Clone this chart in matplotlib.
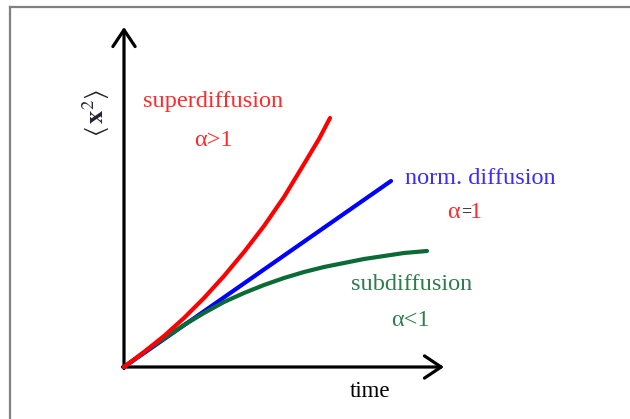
import matplotlib.pyplot as plt
from matplotlib.lines import Line2D

plt.rcParams["mathtext.fontset"] = "stix"

# mean squared displacement vs time, arbitrary units (origin at 0, 0)
t_super = [0, 20, 40, 60, 80, 100, 120, 140, 160, 180, 195, 206]
msd_super = [0, 15, 31, 49, 69, 91, 115, 141, 170, 203, 228, 249]

t_norm = [0, 267]
msd_norm = [0, 186]

t_sub = [0, 15, 30, 45, 60, 80, 100, 120, 140, 160, 180, 200, 220, 240, 260, 280, 303]
msd_sub = [0, 11, 22, 32, 42, 54, 65, 74, 82, 89, 95, 100, 104, 108, 111, 114, 116]

RED = "#ff0000"
BLUE = "#0000ff"
GREEN = "#0b6b36"
SERIF = "Liberation Serif"
FS = 17.5

fig = plt.figure(figsize=(6.30, 4.19), dpi=100)
ax = fig.add_axes([0, 0, 1, 1])
ax.set_xlim(-124, 506)
ax.set_ylim(-52, 367)
ax.axis("off")

# grey frame (left and top edges only)
fig.add_artist(Line2D([10 / 630, 10 / 630], [0, 1 - 7 / 419], color="#808080", lw=1.6))
fig.add_artist(Line2D([10 / 630, 1], [1 - 7 / 419, 1 - 7 / 419], color="#808080", lw=1.6))

# axes with open arrow heads
arrow = dict(arrowstyle="->,head_length=0.6,head_width=0.4", lw=2.3, color="black",
             mutation_scale=20, shrinkA=0, shrinkB=0)
ax.annotate("", xy=(0, 340), xytext=(0, -1.5), arrowprops=arrow)
ax.annotate("", xy=(320, 0), xytext=(-1.5, 0), arrowprops=arrow)

ax.plot(t_norm, msd_norm, color=BLUE, lw=3, solid_capstyle="round", zorder=3)
ax.plot(t_sub, msd_sub, color=GREEN, lw=3, solid_capstyle="round", zorder=3)
ax.plot(t_super, msd_super, color=RED, lw=3, solid_capstyle="round", zorder=4)

ax.text(89, 265, "superdiffusion", color="#ff2a2a", family=SERIF, fontsize=FS,
        ha="center", va="center")
ax.text(89, 226, "α>1", color="#ff2a2a", family=SERIF, fontsize=FS,
        ha="center", va="center")

ax.text(356, 189, "norm. diffusion", color="#3a2cff", family=SERIF, fontsize=FS,
        ha="center", va="center")
ax.text(329, 155, "α", color="#ff2a2a", family=SERIF, fontsize=FS,
        ha="center", va="center")
ax.text(342, 155, "=", color="#333333", family=SERIF, fontsize=13, weight="bold",
        ha="center", va="center")
ax.text(352, 155, "1", color="#ff2a2a", family=SERIF, fontsize=FS,
        ha="center", va="center")

ax.text(288, 83, "subdiffusion", color="#2e7d4a", family=SERIF, fontsize=FS,
        ha="center", va="center")
ax.text(286, 47, "α<1", color="#2e7d4a", family=SERIF, fontsize=FS,
        ha="center", va="center")

ax.text(246, -24, "time", color="black", family=SERIF, fontsize=16.5,
        ha="center", va="center")

ax.text(-28, 254, r"$\langle\,\mathbf{x}^2\rangle$", color="#222233",
        fontsize=19, rotation=90, ha="center", va="center")

fig.savefig("out.png", dpi=100)
